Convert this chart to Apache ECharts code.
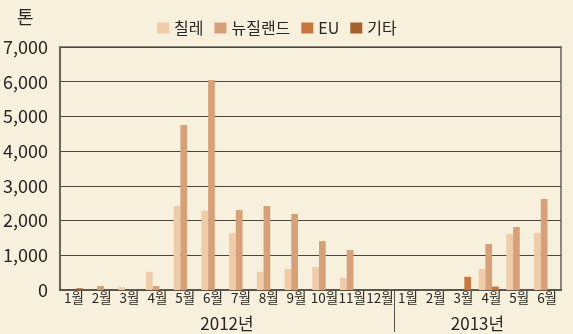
<!DOCTYPE html>
<html>
<head>
<meta charset="utf-8">
<script src="https://cdn.jsdelivr.net/npm/echarts@6/dist/echarts.min.js"></script>
<style>
  html, body { margin: 0; padding: 0; background: #f7f0dc; }
  #chart { width: 573px; height: 334px; }
</style>
</head>
<body>
<div id="chart"></div>
<script>
// Monthly import volume by origin (tonnes), Jan 2012 – Jun 2013
const months = ['1월','2월','3월','4월','5월','6월','7월','8월','9월','10월','11월','12월',
                '1월','2월','3월','4월','5월','6월'];
const years = ['2012년', '2013년'];
const yearCenters = [6, 15];   // middle of each year's run of months
const yearBreak = [12];        // boundary between the two years
const seriesNames = ['칠레', '뉴질랜드', 'EU', '기타'];

const chile      = [0, 0, 85, 520, 2420, 2280, 1640, 520, 605, 660, 345, 0, 0, 0, 0, 605, 1615, 1645];
const newZealand = [0, 115, 0, 115, 4755, 6050, 2305, 2420, 2190, 1410, 1150, 0, 0, 0, 0, 1325, 1815, 2620];
const eu         = [0, 0, 0, 0, 0, 0, 0, 0, 0, 0, 0, 0, 0, 0, 380, 100, 0, 0];
const others     = [50, 0, 0, 0, 0, 0, 0, 0, 0, 0, 0, 0, 0, 0, 0, 0, 0, 0];

const yTicks = [0, 1000, 2000, 3000, 4000, 5000, 6000, 7000];
const unitLabel = '톤';

const colors = ['#f0cbaa', '#d6a078', '#c8763d', '#a5612f'];
const FONT = "'Noto Sans CJK KR', 'Noto Sans', sans-serif";
const TEXT = '#262626';

const chart = echarts.init(document.getElementById('chart'), null, { renderer: 'canvas' });

const bar = (name, data, color, stack) => ({
  name, type: 'bar', data,
  xAxisIndex: 2, yAxisIndex: 1,
  barWidth: 6.7, barGap: 0,
  stack,
  itemStyle: { color },
  emphasis: { disabled: true },
  animation: false
});

chart.setOption({
  backgroundColor: '#f7f0dc',
  animation: false,
  textStyle: { fontFamily: FONT },
  graphic: [{
    type: 'text', left: 17, top: 8,
    style: { text: unitLabel, font: '18px ' + FONT, fill: TEXT }
  }],
  legend: {
    data: seriesNames,
    left: 152, top: 15,
    icon: 'rect', itemWidth: 12, itemHeight: 11, itemGap: 11,
    textStyle: { fontFamily: FONT, fontSize: 16, color: TEXT },
    selectedMode: false
  },
  grid: [
    { left: 57, right: 12, top: 47, bottom: 44, show: true, borderColor: '#8e877b', borderWidth: 2, backgroundColor: 'transparent' },
    { left: 59, right: 15, top: 47, bottom: 44, show: false }
  ],
  xAxis: [
    {
      type: 'category', gridIndex: 0, data: months, position: 'bottom',
      boundaryGap: true,
      axisLine: { lineStyle: { color: '#5a544c', width: 2 } },
      axisTick: { interval: 0, length: 10, lineStyle: { color: '#55504a', width: 1 } },
      axisLabel: { interval: 0, margin: 1, fontSize: 13.5, color: TEXT, fontFamily: FONT }
    },
    {
      type: 'value', gridIndex: 0, min: 0, max: months.length, position: 'bottom',
      axisLine: { show: false },
      splitLine: { show: false },
      axisTick: { show: true, customValues: yearBreak, length: 42, lineStyle: { color: '#55504a', width: 1 } },
      axisLabel: {
        show: true, customValues: yearCenters, margin: 25, fontSize: 17, color: TEXT, fontFamily: FONT,
        formatter: v => years[yearCenters.indexOf(v)] || ''
      }
    },
    { type: 'category', gridIndex: 1, data: months, show: false }
  ],
  yAxis: [
    {
      type: 'value', gridIndex: 0, min: yTicks[0], max: yTicks[yTicks.length - 1], interval: 1000,
      axisLine: { show: true, lineStyle: { color: '#6b6459', width: 2 } },
      axisTick: { show: false },
      axisLabel: { margin: 12, fontSize: 18, color: TEXT, fontFamily: FONT,
                   formatter: v => v.toLocaleString('en-US') },
      splitLine: { show: true, lineStyle: { color: '#4a4540', width: 1 } }
    },
    { type: 'value', gridIndex: 1, min: yTicks[0], max: yTicks[yTicks.length - 1], show: false }
  ],
  series: [
    bar(seriesNames[0], chile, colors[0]),
    bar(seriesNames[1], newZealand, colors[1]),
    bar(seriesNames[2], eu, colors[2], 'etc'),
    bar(seriesNames[3], others, colors[3], 'etc')
  ]
});
</script>
</body>
</html>
